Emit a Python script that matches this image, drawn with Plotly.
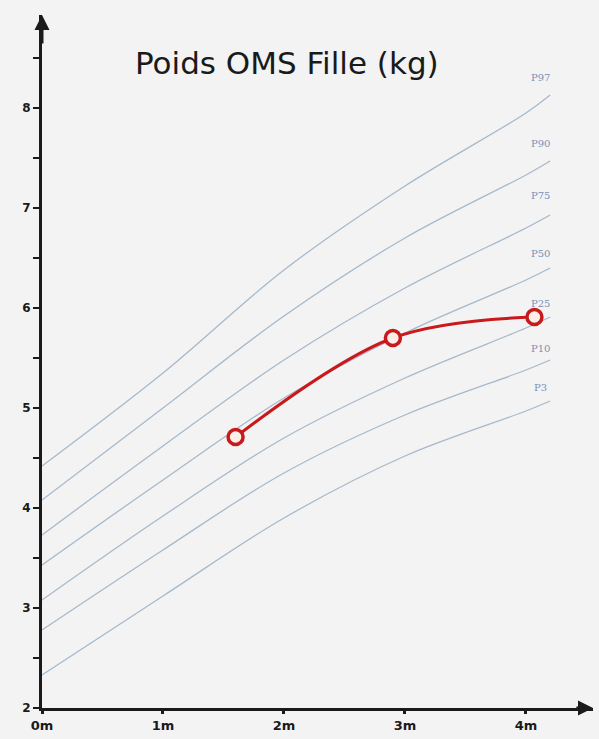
import plotly.graph_objects as go

# ---- data ----
months = [0, 1, 2, 3, 4, 4.2]
p97 = [4.42, 5.35, 6.38, 7.22, 7.95, 8.13]
p90 = [4.08, 5.00, 5.92, 6.70, 7.33, 7.47]
p75 = [3.73, 4.62, 5.48, 6.20, 6.80, 6.93]
p50 = [3.43, 4.28, 5.10, 5.75, 6.28, 6.40]
p25 = [3.08, 3.92, 4.70, 5.30, 5.80, 5.91]
p10 = [2.78, 3.58, 4.35, 4.93, 5.38, 5.48]
p3 = [2.33, 3.12, 3.90, 4.52, 4.97, 5.07]
curve_names = ["P97", "P90", "P75", "P50", "P25", "P10", "P3"]
label_y = [8.31, 7.65, 7.13, 6.55, 6.05, 5.60, 5.21]
label_x = 4.12

child_months = [1.6, 2.9, 4.07]
child_weight = [4.71, 5.70, 5.91]

y_ticks = [2, 3, 4, 5, 6, 7, 8]
x_ticks = [0, 1, 2, 3, 4]
x_labels = ["0m", "1m", "2m", "3m", "4m"]
title = "Poids OMS Fille (kg)"

curves = [p97, p90, p75, p50, p25, p10, p3]

fig = go.Figure()
for name, vals in zip(curve_names, curves):
    fig.add_trace(go.Scatter(
        x=months, y=vals, mode="lines", name=name,
        line=dict(color="rgba(140,165,190,0.75)", width=1.3, shape="spline", smoothing=1.0),
        hoverinfo="skip", showlegend=False))

for name, ly in zip(curve_names, label_y):
    fig.add_annotation(x=label_x, y=ly, text=name, showarrow=False,
                       font=dict(family="DejaVu Serif", size=10, color="#7a90b8"))

fig.add_trace(go.Scatter(
    x=child_months, y=child_weight, mode="lines+markers",
    line=dict(color="#c8191c", width=3, shape="spline", smoothing=1.0),
    marker=dict(symbol="circle", size=15, color="#fbefe8",
                line=dict(color="#c8191c", width=3.5)),
    showlegend=False))

x_max = 4.554
y_max = 8.93

fig.update_layout(
    width=599, height=739,
    margin=dict(l=42, r=6, t=15, b=31),
    paper_bgcolor="#f3f3f3", plot_bgcolor="#f3f3f3",
    showlegend=False,
    xaxis=dict(range=[0, x_max], tickvals=x_ticks, ticktext=x_labels, automargin=False,
               showgrid=False, zeroline=False, showline=True, linecolor="#1a1a1a",
               linewidth=3, ticks="outside", ticklen=3, tickwidth=3, tickcolor="#1a1a1a",
               tickfont=dict(family="DejaVu Sans", size=13, color="#1a1a1a", weight="bold")),
    yaxis=dict(range=[2, y_max], tickvals=y_ticks, automargin=False,
               showgrid=False, zeroline=False, showline=True, linecolor="#1a1a1a",
               linewidth=3, ticks="outside", ticklen=6, tickwidth=2, tickcolor="#1a1a1a",
               minor=dict(dtick=0.5, tick0=2, ticks="outside", ticklen=6, tickwidth=2, tickcolor="#1a1a1a"),
               tickfont=dict(family="DejaVu Sans", size=12, color="#1a1a1a", weight="bold")),
)

# axis arrows
fig.add_annotation(x=x_max, y=2, ax=x_max - 0.15, ay=2, xref="x", yref="y", axref="x", ayref="y",
                   showarrow=True, arrowhead=2, arrowsize=1, arrowwidth=3, arrowcolor="#1a1a1a", text="")
fig.add_annotation(x=0, y=y_max, ax=0, ay=y_max - 0.3, xref="x", yref="y", axref="x", ayref="y",
                   showarrow=True, arrowhead=2, arrowsize=1, arrowwidth=3, arrowcolor="#1a1a1a", text="")

fig.add_annotation(x=(287 - 42) / 551, y=1 - (43 - 15) / 693, xref="paper", yref="paper",
                   text=title, showarrow=False,
                   font=dict(family="DejaVu Sans", size=31, color="#1a1a1a"))

fig.write_html("out.html", config={"displayModeBar": False},
               post_script="document.body.style.margin='0';document.body.style.overflow='hidden';")
